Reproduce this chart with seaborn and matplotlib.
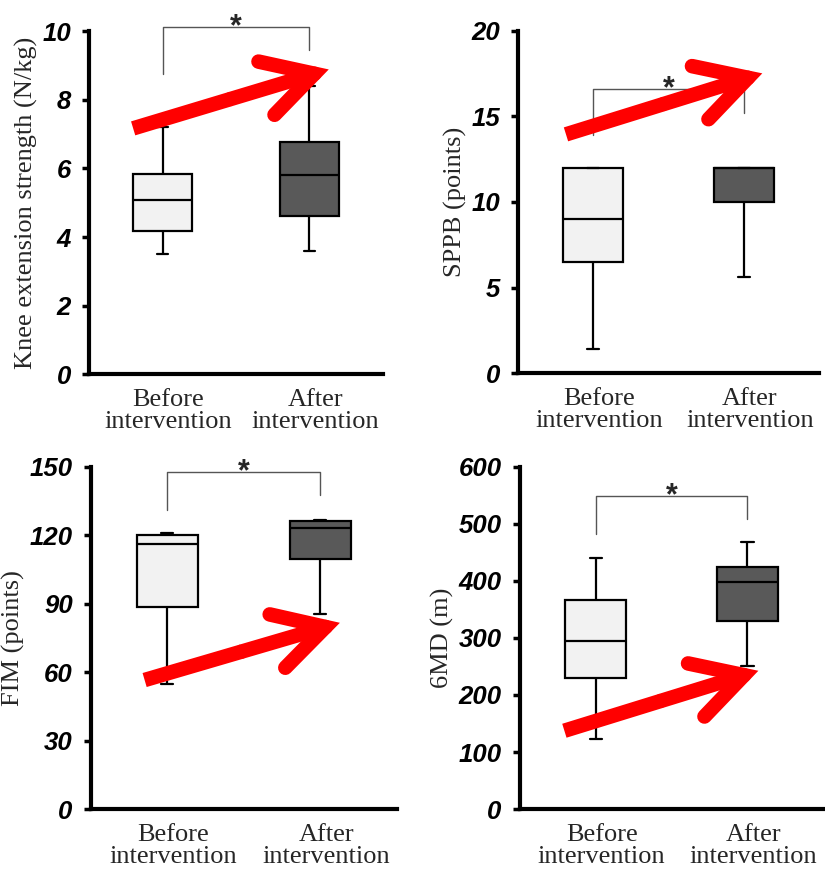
import numpy as np
import pandas as pd
import matplotlib
matplotlib.use("Agg")
import matplotlib.pyplot as plt
import matplotlib.transforms as mtransforms
import seaborn as sns

# five-number summaries: min, Q1, median, Q3, max
GROUPS = ["Before\nintervention", "After\nintervention"]

knee_before = [3.5, 4.18, 5.08, 5.83, 7.2]
knee_after = [3.6, 4.62, 5.82, 6.76, 8.4]
sppb_before = [1.4, 6.5, 9.0, 12.0, 12.0]
sppb_after = [5.6, 10.0, 12.0, 12.0, 12.0]
fim_before = [55.0, 88.5, 116.0, 120.0, 121.0]
fim_after = [85.5, 109.5, 123.0, 126.0, 126.5]
walk_before = [123.0, 230.0, 295.0, 367.0, 440.0]
walk_after = [251.0, 330.0, 398.0, 424.0, 468.0]

ylabels = ["Knee extension strength (N/kg)", "SPPB (points)",
           "FIM (points)", "6MD (m)"]
yticks = [np.arange(0, 11, 2), np.arange(0, 21, 5),
          np.arange(0, 151, 30), np.arange(0, 601, 100)]

# significance brackets: left leg bottom, right leg bottom, top
brackets = [(8.76, 9.45, 10.14), (13.9, 15.2, 16.6),
            (131.0, 137.6, 147.5), (482.0, 508.0, 549.0)]

BOX_COLORS = ["#f2f2f2", "#595959"]

sns.set_theme(style="ticks")
plt.rcParams["font.family"] = ["Liberation Serif", "DejaVu Serif"]

fig = plt.figure(figsize=(8.25, 8.72), dpi=100)
axes_pos = [(0.108, 0.571, 0.356, 0.393), (0.628, 0.572, 0.365, 0.393),
            (0.110, 0.072, 0.371, 0.393), (0.630, 0.072, 0.368, 0.393)]
# red trend arrows, axes fraction (tail, head)
arrows = [((0.150, 0.717), (0.816, 0.889)), ((0.159, 0.697), (0.811, 0.875)),
          ((0.176, 0.377), (0.814, 0.544)), ((0.147, 0.229), (0.786, 0.404))]

panels = [(knee_before, knee_after), (sppb_before, sppb_after),
          (fim_before, fim_after), (walk_before, walk_after)]

for i, (before, after) in enumerate(panels):
    ax = fig.add_axes(axes_pos[i])
    df = pd.DataFrame({
        "group": [GROUPS[0]] * len(before) + [GROUPS[1]] * len(after),
        "value": list(before) + list(after),
    })
    sns.boxplot(data=df, x="group", y="value", hue="group", order=GROUPS,
                hue_order=GROUPS, palette=BOX_COLORS, saturation=1,
                width=0.4, whis=(0, 100), linecolor="black", linewidth=1.6,
                legend=False, ax=ax, capwidths=0.08)
    ax.set_xlim(-0.5, 1.5)
    ax.set_ylim(yticks[i][0], yticks[i][-1])
    ax.set_yticks(yticks[i])
    ax.set_xlabel("")
    ax.set_ylabel(ylabels[i], fontsize=19, labelpad=3)
    sns.despine(ax=ax)
    for s in ["left", "bottom"]:
        ax.spines[s].set_linewidth(3)
        ax.spines[s].set_color("black")
    ax.tick_params(axis="y", length=5, width=2.5, direction="out", pad=8,
                   colors="black")
    ax.tick_params(axis="x", length=0, pad=11)
    for lab in ax.get_yticklabels():
        lab.set_family("Liberation Sans")
        lab.set_fontstyle("italic")
        lab.set_fontweight("bold")
        lab.set_fontsize(18.5)
    shift = mtransforms.ScaledTranslation(6 / 100, 0, fig.dpi_scale_trans)
    for lab in ax.get_xticklabels():
        lab.set_fontsize(19)
        lab.set_linespacing(0.95)
        lab.set_transform(lab.get_transform() + shift)

    lb, rb, top = brackets[i]
    ax.plot([0, 0, 1, 1], [lb, top, top, rb], color="#555555", lw=1,
            clip_on=False, zorder=3)
    ax.annotate("*", (0.5, top), xytext=(0, -6), textcoords="offset points",
                ha="center", va="baseline", fontsize=22, fontweight="bold",
                family="Liberation Sans", annotation_clip=False)

    # shaft with a square tail, then the head part with round arm ends
    tail, head = arrows[i]
    mid = (tail[0] + 0.5 * (head[0] - tail[0]), tail[1] + 0.5 * (head[1] - tail[1]))
    ax.annotate("", xy=mid, xycoords="axes fraction", xytext=tail,
                textcoords="axes fraction",
                arrowprops=dict(arrowstyle="-", color="#ff0000", lw=10.5,
                                shrinkA=0, shrinkB=0, capstyle="butt"),
                zorder=10)
    ax.annotate("", xy=head, xycoords="axes fraction", xytext=mid,
                textcoords="axes fraction",
                arrowprops=dict(arrowstyle="->,head_length=1.8,head_width=1.0",
                                color="#ff0000", lw=10.5, mutation_scale=20,
                                shrinkA=0, shrinkB=0, capstyle="round",
                                joinstyle="miter"),
                zorder=10)

fig.savefig("out.png", dpi=100)
